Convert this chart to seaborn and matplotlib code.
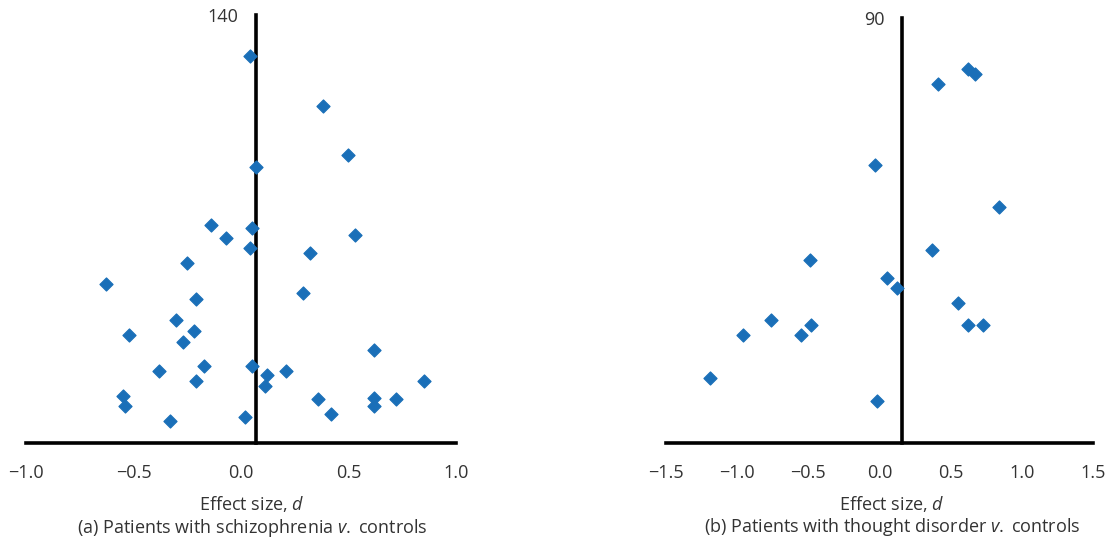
#!/usr/bin/env python3

import numpy as np
import pandas as pd
import seaborn as sns
from matplotlib import pyplot as plt

# (a) schizophrenia v. controls
d_a = [0.04, 0.38, 0.50, 0.07, -0.14, 0.05, 0.53, -0.07, 0.04, 0.32, -0.25,
       -0.63, 0.29, -0.21, -0.30, -0.22, -0.52, -0.27, 0.62, -0.38, -0.17,
       0.05, 0.12, 0.21, -0.21, 0.11, 0.85, -0.55, -0.54, 0.36, 0.62, 0.72,
       0.62, 0.42, 0.02, -0.33]
n_a = [126.6, 110.4, 94.1, 90.4, 71.3, 70.4, 68.0, 67.0, 63.7, 62.1, 58.8,
       51.9, 49.0, 47.0, 40.1, 36.7, 35.3, 32.9, 30.6, 23.7, 25.1,
       25.1, 22.2, 23.7, 20.3, 18.8, 20.3, 15.4, 12.0, 14.5, 14.6, 14.4,
       12.0, 9.5, 8.6, 7.1]
mean_a = 0.07

# (b) thought disorder v. controls
d_b = [0.41, 0.62, 0.67, -0.03, 0.84, 0.37, -0.49, 0.05, 0.12, 0.55, -0.76,
       -0.48, 0.62, 0.73, -0.96, -0.55, -1.19, -0.02]
n_b = [76.1, 79.2, 78.2, 58.9, 50.0, 40.8, 38.7, 35.0, 32.8, 29.6, 26.1,
       25.1, 25.1, 25.1, 22.9, 22.9, 13.7, 9.0]
mean_b = 0.16

sns.set_style('white')
plt.rcParams['font.family'] = ['Open Sans', 'DejaVu Sans']
plt.rcParams['mathtext.fontset'] = 'custom'
plt.rcParams['mathtext.it'] = 'Open Sans:italic'
plt.rcParams['mathtext.rm'] = 'Open Sans'

txt = '#333333'
blue = '#1a6fb8'

fig = plt.figure(figsize=(11.1, 5.39), dpi=100)
ax1 = fig.add_axes([0.0234, 0.178, 0.3874, 0.794])
ax2 = fig.add_axes([0.600, 0.178, 0.3847, 0.7885])

panels = [
    (ax1, d_a, n_a, mean_a, (-1, 1), np.arange(-1, 1.01, 0.5), 140,
     '(a) Patients with schizophrenia $\\mathit{v.}$ controls', 0.526),
    (ax2, d_b, n_b, mean_b, (-1.5, 1.5), np.arange(-1.5, 1.51, 0.5), 90,
     '(b) Patients with thought disorder $\\mathit{v.}$ controls', 0.529),
]

for ax, d, n, m, xl, xt, ytop, title, lx in panels:
    df = pd.DataFrame({'d': d, 'n': n})
    sns.scatterplot(x='d', y='n', data=df, ax=ax, marker='D', s=44,
                    color=blue, edgecolor=blue, linewidth=0.9, zorder=3)
    ax.set_xlim(*xl)
    ax.set_ylim(0, ytop)
    ax.set_xticks(xt)
    ax.set_xticklabels([f'{v:.1f}'.replace('-', '\u2212') for v in xt])
    ax.set_yticks([ytop])
    ax.set_yticklabels([str(ytop)])
    for s in ['top', 'right']:
        ax.spines[s].set_visible(False)
    ax.spines['left'].set_position(('data', m))
    ax.spines['left'].set_linewidth(2.6)
    ax.spines['bottom'].set_linewidth(2.6)
    ax.spines['left'].set_color('black')
    ax.spines['bottom'].set_color('black')
    ax.tick_params(axis='x', direction='out', length=5, width=2.6,
                   labelsize=13, labelcolor=txt, pad=10)
    ax.tick_params(axis='y', direction='out', length=5, width=2.6,
                   labelsize=13, labelcolor=txt, pad=8)
    ax.set_ylabel('')
    ax.set_xlabel('Effect size, $\\mathit{d}$\n' + title, fontsize=13,
                  color=txt, linespacing=1.15)
    ax.xaxis.set_label_coords(lx, -0.12)
    ax.patch.set_alpha(0)

plt.savefig('out.png', dpi=100)
